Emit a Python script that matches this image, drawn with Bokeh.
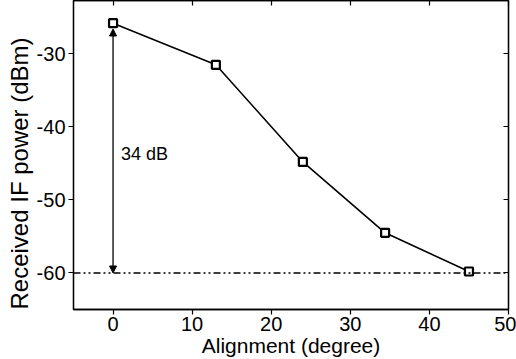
from bokeh.plotting import figure
from bokeh.models import LinearAxis, Range1d, Arrow, NormalHead, Span, Label, Title, CustomJSTickFormatter
from bokeh.embed import file_html
from bokeh.resources import INLINE

# Data
alignment_deg = [0, 13, 24, 34.4, 45]
if_power_dbm = [-25.8, -31.5, -44.8, -54.5, -59.8]
floor_dbm = -60
arrow_top = -26.6
annotation = "34 dB"
x_title = "Alignment (degree)"
y_title = "Received IF power (dBm)"
x_ticks = [0, 10, 20, 30, 40, 50]
y_ticks = [-60, -50, -40, -30]

FONT = "Arial"

p = figure(width=516, height=359, output_backend="svg", toolbar_location=None,
           x_range=Range1d(-5, 50), y_range=Range1d(-65, -22.7),
           min_border_left=73, min_border_right=8, min_border_top=0, min_border_bottom=50)
p.grid.visible = False
p.outline_line_color = "black"
p.outline_line_width = 1.3

fmt = "return tick.toFixed(0);"
for ax in (p.xaxis[0], p.yaxis[0]):
    ax.formatter = CustomJSTickFormatter(code=fmt)
    ax.axis_line_width = 1.3
    ax.major_tick_line_width = 1.2
    ax.minor_tick_line_width = 1.2
    ax.major_tick_in = 0
    ax.major_tick_out = 5
    ax.minor_tick_in = 0
    ax.minor_tick_out = 3
    ax.major_label_text_font = FONT
    ax.major_label_text_font_size = "20px"
    ax.major_label_text_color = "black"
    ax.axis_label_text_font = FONT
    ax.axis_label_text_font_style = "normal"
    ax.axis_label_text_color = "black"

p.xaxis[0].ticker = x_ticks
p.xaxis[0].ticker.num_minor_ticks = 2
p.yaxis[0].ticker = y_ticks
p.yaxis[0].ticker.num_minor_ticks = 2
p.xaxis[0].axis_label = x_title
p.xaxis[0].axis_label_text_font_size = "21px"
p.xaxis[0].major_label_standoff = 2
p.xaxis[0].axis_label_standoff = 0
p.yaxis[0].major_label_standoff = 3

for loc in ("above", "right"):
    ax = LinearAxis(ticker=x_ticks if loc == "above" else y_ticks)
    ax.ticker.num_minor_ticks = 2
    ax.formatter = CustomJSTickFormatter(code="return '';")
    ax.major_tick_in = 5
    ax.major_tick_out = 0
    ax.minor_tick_in = 3
    ax.minor_tick_out = 0
    ax.axis_line_width = 1.3
    ax.major_tick_line_width = 1.2
    ax.minor_tick_line_width = 1.2
    ax.major_label_standoff = 0
    p.add_layout(ax, loc)

# y-axis title as a side title, starting at the frame's bottom as in the reference
p.add_layout(Title(text=y_title, align="left", offset=0, text_font=FONT,
                   text_font_size="24px", text_font_style="normal", text_color="black",
                   standoff=2), "left")

p.add_layout(Span(location=floor_dbm, dimension="width", line_color="black",
                  line_width=1.3, line_dash="7 3 2 3 2 3"))

p.line(alignment_deg, if_power_dbm, line_color="black", line_width=1.6)
p.scatter(alignment_deg, if_power_dbm, marker="square", size=8, fill_color="white",
          line_color="black", line_width=2.2)

p.add_layout(Arrow(x_start=0, y_start=floor_dbm, x_end=0, y_end=arrow_top,
                   line_width=1.3, line_color="black",
                   start=NormalHead(size=7, fill_color="black", line_color="black"),
                   end=NormalHead(size=7, fill_color="black", line_color="black")))

p.add_layout(Label(x=1.0, y=-43.65, text=annotation, text_font=FONT,
                   text_font_size="18px", text_baseline="middle", text_color="black"))

open("out.html", "w").write(file_html(p, INLINE))
